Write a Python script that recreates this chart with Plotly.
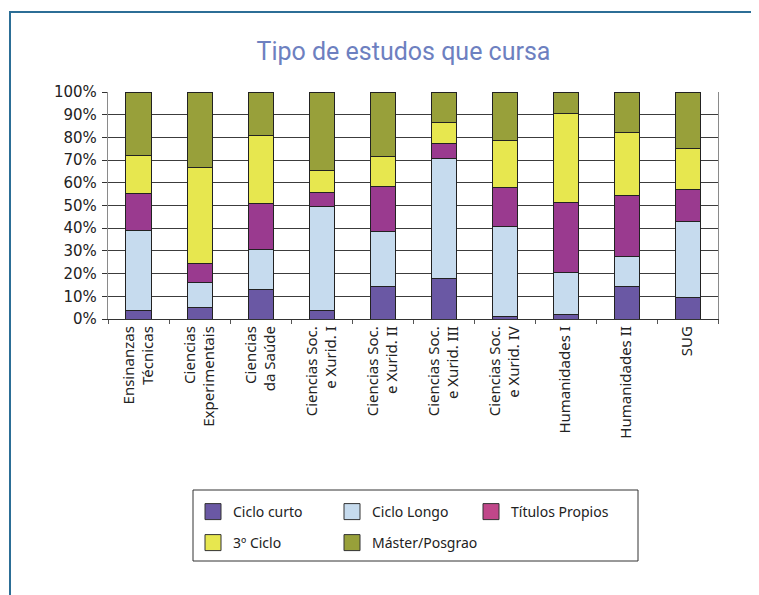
import plotly.graph_objects as go

# categories and shares (%)
categories = [
    "Ensinanzas<br>Técnicas",
    "Ciencias<br>Experimentais",
    "Ciencias<br>da Saúde",
    "Ciencias Soc.<br>e Xurid. I",
    "Ciencias Soc.<br>e Xurid. II",
    "Ciencias Soc.<br>e Xurid. III",
    "Ciencias Soc.<br>e Xurid. IV",
    "Humanidades I",
    "Humanidades II",
    "SUG",
]
ciclo_curto = [3.7, 5.0, 12.9, 3.7, 14.5, 18.0, 1.2, 1.8, 14.2, 9.5]
ciclo_longo = [35.4, 11.3, 17.7, 45.8, 24.0, 52.9, 39.6, 18.8, 13.2, 33.5]
titulos_propios = [16.1, 8.3, 20.1, 6.3, 19.9, 6.3, 17.2, 30.6, 26.8, 14.0]
terceiro_ciclo = [16.7, 42.3, 30.1, 9.6, 13.0, 9.3, 20.6, 39.3, 27.9, 18.3]
master_posgrao = [28.1, 33.1, 19.2, 34.6, 28.6, 13.5, 21.4, 9.5, 17.9, 24.7]

series = [
    ("Ciclo curto", ciclo_curto, "#6a58a4", "#6a58a4"),
    ("Ciclo Longo", ciclo_longo, "#c6dbee", "#c6dbee"),
    ("Títulos Propios", titulos_propios, "#9a3a8f", "#c0478a"),
    ("3º Ciclo", terceiro_ciclo, "#e7e74f", "#e7e74f"),
    ("Máster/Posgrao", master_posgrao, "#98a03a", "#98a03a"),
]

# page has an 8px body margin, so the figure is drawn 8px in
OFF = 8
W, H = 759 - OFF, 595 - OFF
ML, MT = 108 - OFF, 92 - OFF
PW, PH = 610, 227
MR, MB = W - ML - PW, H - MT - PH


# page pixel -> paper coords
def px(x):
    return (x - OFF - ML) / PW


def py(y):
    return (MT + PH - (y - OFF)) / PH


fig = go.Figure()
for name, vals, col, _ in series:
    fig.add_trace(go.Bar(
        x=categories, y=vals, name=name, showlegend=False,
        marker=dict(color=col, line=dict(color="#222222", width=1)),
    ))

# legend entries (bigger swatches), split in two rows
for i, (name, vals, _, lcol) in enumerate(series):
    fig.add_trace(go.Scatter(
        x=[None], y=[None], mode="markers", name=name,
        marker=dict(symbol="square", size=16, color=lcol,
                    line=dict(color="#333333", width=1)),
        legend="legend" if i < 3 else "legend2",
    ))
# empty slot so the second row is as wide as the first (no clipping)
fig.add_trace(go.Scatter(
    x=[None], y=[None], mode="markers", name=" ", hoverinfo="skip",
    marker=dict(color="rgba(0,0,0,0)", line=dict(width=0)),
    legend="legend2",
))

legend_style = dict(
    orientation="h", xanchor="left", yanchor="middle", traceorder="normal",
    bgcolor="rgba(0,0,0,0)", borderwidth=0,
    entrywidth=94, entrywidthmode="pixels",
    font=dict(family="Noto Sans, Open Sans, sans-serif", size=14, color="#222222"),
    itemclick=False, itemdoubleclick=False,
)

fig.update_layout(
    width=W, height=H,
    margin=dict(l=ML, r=MR, t=MT, b=MB),
    paper_bgcolor="white", plot_bgcolor="white",
    barmode="stack", bargap=0.59,
    title=dict(
        text="Tipo de estudos que cursa",
        x=(403.5 - OFF) / W, xref="container", xanchor="center",
        y=1 - (51 - OFF) / H, yref="container", yanchor="middle",
        font=dict(family="Roboto, sans-serif", size=25, color="#6d80c0"),
    ),
    legend=dict(x=px(193), y=py(512), **legend_style),
    legend2=dict(x=px(193), y=py(543), **legend_style),
    shapes=[
        # outer frame
        dict(type="rect", xref="paper", yref="paper",
             x0=px(10), x1=px(800), y0=py(12), y1=py(640),
             line=dict(color="#2c6e96", width=2), layer="below"),
        # legend box
        dict(type="rect", xref="paper", yref="paper",
             x0=px(193), x1=px(638), y0=py(490), y1=py(561),
             line=dict(color="#333333", width=1)),
    ],
)

fig.update_xaxes(
    type="category", tickangle=-90,
    tickfont=dict(family="Noto Sans, Open Sans, sans-serif", size=15, color="#222222"),
    ticks="outside", tickson="boundaries", ticklen=4, tickcolor="#555555",
    showline=True, linecolor="#333333", linewidth=1.3,
    showgrid=False,
)
fig.update_yaxes(
    range=[0, 100], dtick=10, ticksuffix="%",
    tickfont=dict(family="DejaVu Sans, Verdana, sans-serif", size=15, color="#222222"),
    showgrid=True, gridcolor="#3c3c3c", gridwidth=1.3,
    showline=True, linecolor="#8a8a8a", linewidth=1.3, mirror=True,
    zeroline=False, ticks="outside", ticklen=5, tickcolor="#333333",
    ticklabelstandoff=2,
)

fig.write_html("out.html")
